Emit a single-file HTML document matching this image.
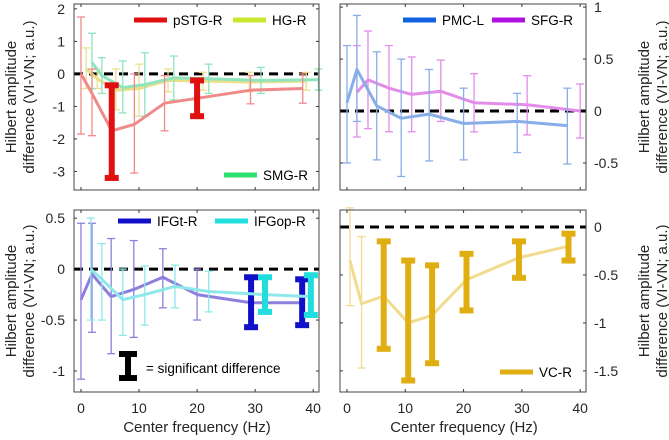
<!DOCTYPE html>
<html><head><meta charset="utf-8"><style>
html,body{margin:0;padding:0;background:#fff}
svg{display:block;font-family:"Liberation Sans",Arial,sans-serif}
</style></head><body>
<svg id="fig" width="669" height="440" viewBox="0 0 669 440"></svg>
<script>
// ---- data ----
const xTicks=[0,10,20,30,40];
const pstgF=[0,1.9,5.3,9.2,14.4,20,29.2,38.2];
const pstgM=[0,-0.6,-1.75,-1.55,-0.9,-0.75,-0.5,-0.45];
const pstgHi=[1.75,0.15,-0.35,0,-0.05,-0.2,-0.05,0];
const pstgLo=[-1.85,-1.9,-3.2,-3.05,-1.75,-1.3,-0.92,-0.9];
const pstgSig=[0,0,1,0,0,1,0,0];
const hgF=[0.9,2.8,6,10,15,21,29,38.8];
const hgM=[0.15,-0.15,-0.5,-0.45,-0.2,-0.22,-0.25,-0.22];
const hgHi=[0.8,0.15,0.15,0.3,0.15,0.05,0.05,0.05];
const hgLo=[-0.45,-0.45,-1.1,-1.3,-0.55,-0.5,-0.55,-0.5];
const smgF=[1.9,3.6,7.2,11,16,22,31,40.9];
const smgM=[0.35,-0.05,-0.42,-0.33,-0.12,-0.15,-0.2,-0.18];
const smgHi=[1.25,0.5,0.4,0.65,0.55,0.3,0.2,0.15];
const smgLo=[-0.45,-0.6,-1.2,-1.3,-0.8,-0.6,-0.6,-0.5];
const pmcF=[0,1.7,5.1,9.3,14.1,20,29.2,37.8];
const pmcM=[0.08,0.4,0.05,-0.07,-0.03,-0.12,-0.1,-0.14];
const pmcHi=[0.63,0.92,0.57,0.5,0.4,0.22,0.17,0.22];
const pmcLo=[-0.5,-0.1,-0.47,-0.63,-0.48,-0.47,-0.4,-0.51];
const sfgF=[1.7,3.6,7.2,11.1,16.1,21.8,30.9,40];
const sfgM=[0.18,0.3,0.22,0.16,0.19,0.08,0.06,0.0];
const sfgHi=[0.63,0.77,0.63,0.52,0.49,0.36,0.34,0.26];
const sfgLo=[-0.25,-0.17,-0.2,-0.2,-0.1,-0.2,-0.23,-0.26];
const ifgtF=[0,1.9,5.2,9.1,14.1,20,29.3,38.1];
const ifgtM=[-0.3,-0.05,-0.27,-0.2,-0.08,-0.25,-0.33,-0.33];
const ifgtHi=[0.45,0.45,0.3,0.28,0.2,0,-0.08,-0.1];
const ifgtLo=[-1.08,-0.62,-0.83,-0.67,-0.38,-0.5,-0.57,-0.55];
const ifgtSig=[0,0,0,0,0,0,1,1];
const ifgopF=[1.7,3.6,7.2,11,16.2,22,31.7,39.6];
const ifgopM=[0.0,-0.1,-0.3,-0.25,-0.17,-0.22,-0.25,-0.27];
const ifgopHi=[0.5,0.25,0,0.03,0.04,-0.02,-0.08,-0.06];
const ifgopLo=[-0.5,-0.5,-0.65,-0.55,-0.38,-0.42,-0.42,-0.45];
const ifgopSig=[0,0,0,0,0,0,1,1];
const vcF=[0.5,2.5,6.3,10.5,14.6,20.5,29.5,38];
const vcM=[-0.35,-0.8,-0.72,-1.0,-0.92,-0.55,-0.32,-0.2];
const vcHi=[0.2,-0.1,-0.15,-0.35,-0.4,-0.28,-0.15,-0.07];
const vcLo=[-0.82,-1.47,-1.27,-1.6,-1.42,-0.87,-0.53,-0.35];
const vcSig=[0,0,1,1,1,1,1,1];
const none=[0,0,0,0,0,0,0,0];

const NS="http://www.w3.org/2000/svg";
const svg=document.getElementById('fig');
function mk(tag,attrs,parent){const e=document.createElementNS(NS,tag);for(const k in attrs)e.setAttribute(k,attrs[k]);(parent||svg).appendChild(e);return e;}

const panels=[
 {id:'top-left',x0:74,x1:319,y0:4,y1:190,ymin:-3.57,ymax:2.15,yt:[2,1,0,-1,-2,-3],side:'left',xl:false},
 {id:'top-right',x0:340,x1:586,y0:4,y1:190,ymin:-0.76,ymax:1.03,yt:[1,0.5,0,-0.5],side:'right',xl:false},
 {id:'bottom-left',x0:74,x1:319,y0:210,y1:392,ymin:-1.206,ymax:0.58,yt:[0.5,0,-0.5,-1],side:'left',xl:true},
 {id:'bottom-right',x0:340,x1:586,y0:210,y1:392,ymin:-1.72,ymax:0.177,yt:[0,-0.5,-1,-1.5],side:'right',xl:true}
];
const XMIN=-1.2,XMAX=41.0;
panels.forEach(p=>{
 p.sx=f=>p.x0+(f-XMIN)/(XMAX-XMIN)*(p.x1-p.x0);
 p.sy=v=>p.y0+(p.ymax-v)/(p.ymax-p.ymin)*(p.y1-p.y0);
 const g=mk('g',{});
 
 
 p.g=g;
 mk('rect',{x:p.x0,y:p.y0,width:p.x1-p.x0,height:p.y1-p.y0,fill:'#fff'},g);
 xTicks.forEach(t=>{
  const x=p.sx(t);
  mk('line',{x1:x,x2:x,y1:p.y1,y2:p.y1-3,stroke:'#333','stroke-width':1},g);
  mk('line',{x1:x,x2:x,y1:p.y0,y2:p.y0+3,stroke:'#333','stroke-width':1},g);
  if(p.xl){const tx=mk('text',{x:x,y:p.y1+21,'text-anchor':'middle','font-size':14,fill:'#262626'},g);tx.textContent=t;
   }
 });
 p.yt.forEach(t=>{
  const y=p.sy(t);
  const xa=p.side==='left'?p.x0:p.x1, d=p.side==='left'?3:-3;
  mk('line',{x1:xa,x2:xa+d,y1:y,y2:y,stroke:'#333','stroke-width':1},g);
  const xb=p.side==='left'?p.x1:p.x0;
  mk('line',{x1:xb,x2:xb-d,y1:y,y2:y,stroke:'#333','stroke-width':1},g);
  const tx=mk('text',{x:p.side==='left'?p.x0-9:p.x1+8,y:y+5,'text-anchor':p.side==='left'?'end':'start','font-size':14,fill:'#262626'},g);
  tx.textContent=t;
  
 });
});
const [TL,TR,BL,BR]=panels;

function zero(p){const l=mk('line',{x1:p.x0,x2:p.x1,y1:p.sy(0),y2:p.sy(0),stroke:'#000','stroke-width':3,'stroke-dasharray':'9,6'},p.g);
 }

function series(p,name,F,M,Hi,Lo,Sig,light,dark){
 const g=mk('g',{},p.g);
 
 
 F.forEach((f,i)=>{
  if(Sig[i])return;
  const x=p.sx(f),a=p.sy(Hi[i]),b=p.sy(Lo[i]);
  mk('line',{x1:x,x2:x,y1:a,y2:b,stroke:light,'stroke-width':1.3},g);
  mk('line',{x1:x-4,x2:x+4,y1:a,y2:a,stroke:light,'stroke-width':1.3},g);
  mk('line',{x1:x-4,x2:x+4,y1:b,y2:b,stroke:light,'stroke-width':1.3},g);
 });
 const pts=F.map((f,i)=>p.sx(f)+','+p.sy(M[i])).join(' ');
 const pl=mk('polyline',{points:pts,fill:'none',stroke:light,'stroke-width':3,'stroke-linejoin':'round'},g);
 
 F.forEach((f,i)=>{
  if(!Sig[i])return;
  const x=p.sx(f),a=p.sy(Hi[i]),b=p.sy(Lo[i]);
  mk('line',{x1:x,x2:x,y1:a,y2:b,stroke:dark,'stroke-width':6},g);
  mk('line',{x1:x-7,x2:x+7,y1:a,y2:a,stroke:dark,'stroke-width':6},g);
  mk('line',{x1:x-7,x2:x+7,y1:b,y2:b,stroke:dark,'stroke-width':6},g);
 });
}
zero(TL);
series(TL,'hg-r',hgF,hgM,hgHi,hgLo,none,'#ebe08a','#c8e830');
series(TL,'smg-r',smgF,smgM,smgHi,smgLo,none,'#8fe4bd','#30e070');
series(TL,'pstg-r',pstgF,pstgM,pstgHi,pstgLo,pstgSig,'#f08a8a','#e01010');
zero(TR);
series(TR,'sfg-r',sfgF,sfgM,sfgHi,sfgLo,none,'#e38ce8','#b010e0');
series(TR,'pmc-l',pmcF,pmcM,pmcHi,pmcLo,none,'#88aee8','#1060e0');
zero(BL);
series(BL,'ifgt-r',ifgtF,ifgtM,ifgtHi,ifgtLo,ifgtSig,'#8c80dc','#1010c8');
series(BL,'ifgop-r',ifgopF,ifgopM,ifgopHi,ifgopLo,ifgopSig,'#8ee8ea','#20dede');
zero(BR);
series(BR,'vc-r',vcF,vcM,vcHi,vcLo,vcSig,'#f2da8e','#e0ae10');

panels.forEach(p=>{
 const r=mk('rect',{x:p.x0,y:p.y0,width:p.x1-p.x0,height:p.y1-p.y0,fill:'none',stroke:'#444','stroke-width':1},p.g);
 
});

function legend(x,y,color,label,nm){
 const g=mk('g',{});
 
 
 mk('line',{x1:x,x2:x+33,y1:y,y2:y,stroke:color,'stroke-width':5},g);
 const t=mk('text',{x:x+39,y:y+5,'font-size':13.5,fill:'#000'},g);t.textContent=label;
}
legend(134,20,'#e01010','pSTG-R','pstg-r');
legend(233,20,'#c8e830','HG-R','hg-r');
legend(224,175,'#30e070','SMG-R','smg-r');
legend(403,20,'#1060e0','PMC-L','pmc-l');
legend(492,20,'#b010e0','SFG-R','sfg-r');
legend(118,221,'#1010c8','IFGt-R','ifgt-r');
legend(215,221,'#20dede','IFGop-R','ifgop-r');
legend(500,372,'#e0ae10','VC-R','vc-r');

const kg=mk('g',{});


mk('line',{x1:128,x2:128,y1:354,y2:378,stroke:'#000','stroke-width':6},kg);
mk('line',{x1:119,x2:137,y1:354,y2:354,stroke:'#000','stroke-width':6},kg);
mk('line',{x1:119,x2:137,y1:378,y2:378,stroke:'#000','stroke-width':6},kg);
const kt=mk('text',{x:146,y:373,'font-size':13.5,fill:'#000'},kg);kt.textContent='= significant difference';

function ytitle(cx,cy,nm){
 const t=mk('text',{transform:`translate(${cx},${cy}) rotate(-90)`,'text-anchor':'middle','font-size':15,fill:'#262626'});
 
 const a=mk('tspan',{x:0,dy:0},t);a.textContent='Hilbert amplitude';
 const b=mk('tspan',{x:0,dy:18},t);b.textContent='difference (VI-VN; a.u.)';
}
ytitle(16,97,'top-left-y-axis-title');
ytitle(16,301,'bottom-left-y-axis-title');
ytitle(649,97,'top-right-y-axis-title');
ytitle(649,301,'bottom-right-y-axis-title');
[[197,'bottom-left-x-axis-title'],[464,'bottom-right-x-axis-title']].forEach(([x,nm])=>{
 const t=mk('text',{x:x,y:432,'text-anchor':'middle','font-size':15,fill:'#262626'});
 t.textContent='Center frequency (Hz)';
 
});
</script>
</body></html>
